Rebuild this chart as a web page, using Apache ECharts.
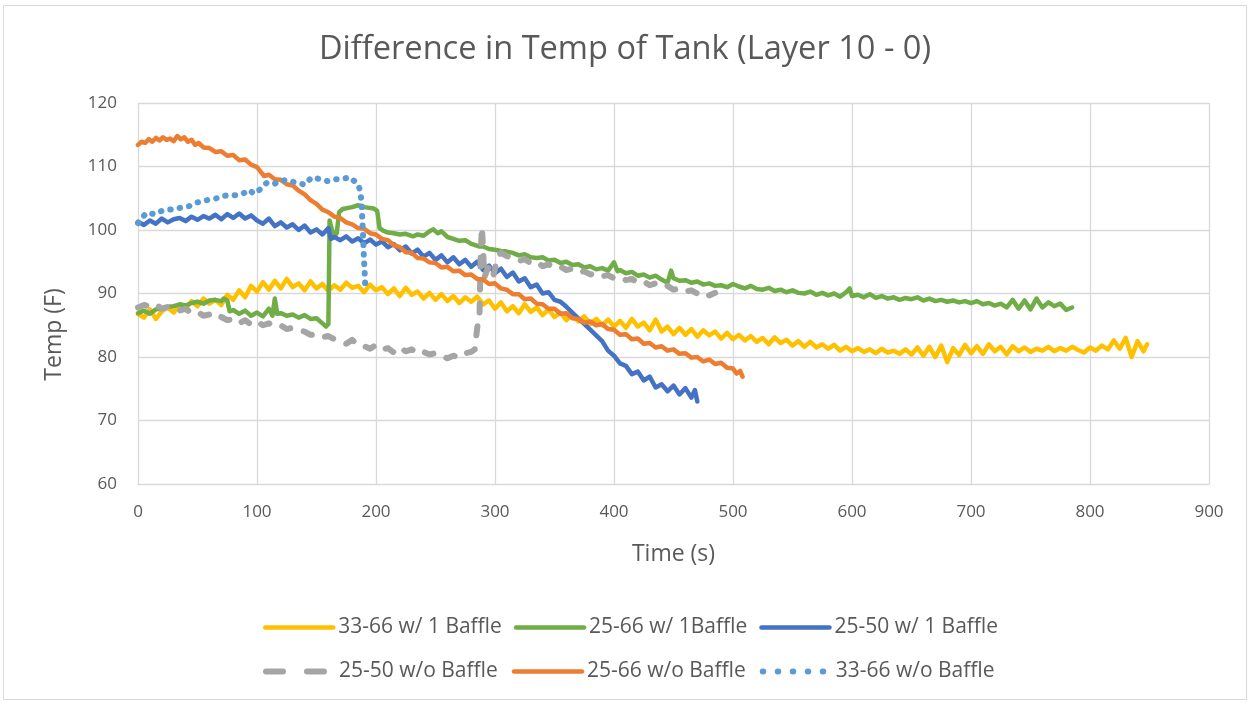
<!DOCTYPE html>
<html>
<head>
<meta charset="utf-8">
<script src="https://cdn.jsdelivr.net/npm/echarts@6/dist/echarts.min.js"></script>
<style>
  html, body { margin: 0; padding: 0; background: #fff; }
  #chart { width: 1250px; height: 703px; }
</style>
</head>
<body>
<div id="chart"></div>
<script>
// [time (s), temp (F)]
const yellow3366w1 = [[0,86.8],[5,86.2],[10,87.5],[15,86.0],[20,87.2],[25,87.8],[30,87.0],[35,88.2],[40,87.6],[45,88.8],[50,88.0],[55,89.2],[60,88.4],[65,89.0],[70,88.2],[75,89.8],[80,89.0],[85,90.5],[90,89.4],[95,91.2],[100,90.3],[105,91.8],[110,90.6],[115,92.0],[120,90.8],[125,92.3],[130,91.0],[135,91.6],[140,90.5],[145,91.9],[150,90.8],[155,91.5],[160,90.4],[165,91.3],[170,90.6],[175,91.7],[180,90.9],[185,91.2],[190,90.2],[195,91.4],[200,90.5],[205,91.0],[210,89.9],[215,90.8],[220,89.6],[225,90.9],[230,89.8],[235,90.3],[240,89.2],[245,90.1],[250,89.0],[255,89.9],[260,88.8],[265,89.6],[270,88.5],[275,89.4],[280,88.7],[285,89.5],[290,88.3],[295,88.9],[300,87.6],[305,88.6],[310,87.2],[315,88.0],[320,86.9],[325,88.3],[330,87.1],[335,87.8],[340,86.6],[345,87.5],[350,86.3],[355,87.0],[360,85.8],[365,86.8],[370,85.6],[375,86.4],[380,85.2],[385,86.0],[390,85.0],[395,85.9],[400,84.8],[405,85.7],[410,84.6],[415,86.0],[420,84.8],[425,85.4],[430,84.2],[435,85.9],[440,84.0],[445,84.8],[450,83.6],[455,84.6],[460,83.5],[465,84.4],[470,83.2],[475,84.2],[480,83.4],[485,84.0],[490,82.9],[495,83.8],[500,82.8],[505,83.5],[510,82.6],[515,83.3],[520,82.4],[525,83.0],[530,82.0],[535,83.1],[540,82.2],[545,82.7],[550,81.8],[555,82.5],[560,81.6],[565,82.4],[570,81.5],[575,82.0],[580,81.3],[585,81.9],[590,81.0],[595,81.6],[600,80.9],[605,81.4],[610,80.8],[615,81.2],[620,80.6],[625,81.3],[630,80.7],[635,81.0],[640,80.5],[645,81.2],[650,80.4],[655,81.5],[660,80.2],[665,81.6],[670,80.0],[675,81.8],[680,79.2],[685,81.4],[690,80.3],[695,81.9],[700,80.6],[705,81.7],[710,80.5],[715,82.0],[720,80.9],[725,81.6],[730,80.4],[735,81.7],[740,80.9],[745,81.5],[750,80.8],[755,81.3],[760,81.0],[765,81.6],[770,80.9],[775,81.4],[780,81.0],[785,81.6],[790,81.1],[795,80.7],[800,81.5],[805,81.0],[810,81.8],[815,81.2],[820,82.6],[825,81.3],[830,83.0],[835,80.0],[840,82.5],[845,80.9],[848,82.0]];

const green2566w1 = [[0,86.9],[5,87.3],[10,86.8],[15,87.5],[20,87.6],[25,87.9],[30,88.0],[35,88.3],[40,88.1],[45,88.5],[50,88.7],[55,88.4],[60,88.9],[65,89.0],[70,88.8],[72,89.2],[75,88.9],[77,87.2],[80,87.4],[85,86.8],[90,87.3],[95,86.5],[100,87.0],[105,86.4],[110,87.6],[113,86.5],[115,89.2],[117,86.8],[120,86.9],[125,86.5],[130,86.7],[135,86.2],[140,86.6],[145,86.0],[150,86.1],[155,85.3],[158,84.8],[160,85.2],[161,101.5],[163,100.0],[165,98.9],[167,99.5],[169,102.8],[172,103.3],[180,103.6],[185,103.9],[190,103.6],[198,103.4],[201,103.0],[203,100.3],[206,99.9],[210,99.6],[215,99.5],[220,99.3],[225,99.4],[231,99.0],[235,99.3],[240,99.1],[245,99.8],[248,100.1],[252,99.5],[255,99.8],[260,98.9],[265,98.6],[270,98.3],[275,98.4],[280,97.8],[287,97.4],[290,97.4],[295,97.0],[300,96.9],[305,96.7],[310,96.6],[315,96.4],[320,96.0],[325,96.2],[330,95.7],[335,95.6],[340,95.7],[345,95.2],[350,95.3],[355,94.8],[360,95.0],[365,94.5],[370,94.6],[375,94.1],[380,94.3],[385,93.8],[390,94.0],[395,93.6],[400,94.9],[403,93.5],[405,93.7],[410,93.2],[415,93.4],[420,92.8],[425,93.0],[430,92.5],[435,92.8],[440,92.2],[445,91.7],[448,93.6],[450,92.4],[455,92.0],[460,92.1],[465,91.7],[470,91.9],[475,91.4],[480,91.6],[485,91.2],[490,91.3],[495,91.0],[500,91.5],[505,91.1],[510,90.8],[515,91.2],[520,90.7],[525,90.6],[530,90.9],[535,90.4],[540,90.6],[545,90.2],[550,90.5],[555,90.1],[560,90.0],[565,90.3],[570,89.8],[575,90.1],[580,89.7],[585,90.0],[590,89.5],[595,90.2],[598,90.8],[600,89.6],[605,89.8],[610,89.4],[615,89.9],[620,89.3],[625,89.6],[630,89.2],[635,89.4],[640,89.0],[645,89.3],[650,89.1],[655,89.4],[660,88.9],[665,89.2],[670,88.8],[675,89.0],[680,88.7],[685,88.9],[690,88.6],[695,88.8],[700,88.5],[705,88.8],[710,88.3],[715,88.5],[720,88.1],[725,88.4],[730,87.8],[735,89.0],[740,87.6],[745,88.9],[750,87.5],[755,89.2],[760,87.8],[765,88.6],[770,88.0],[775,88.4],[780,87.4],[785,87.8]];

const blue2550w1 = [[0,101.3],[5,100.8],[10,101.5],[15,101.0],[20,101.8],[25,101.2],[30,101.7],[35,101.9],[40,101.4],[45,102.1],[50,101.6],[55,102.2],[60,101.8],[65,102.4],[70,101.7],[75,102.5],[80,101.9],[85,102.6],[90,101.8],[95,102.3],[100,101.5],[105,101.0],[110,101.8],[115,100.6],[120,101.2],[125,100.4],[130,100.9],[135,100.0],[140,100.7],[145,99.6],[150,100.1],[155,99.3],[160,100.3],[162,98.6],[165,98.9],[170,98.4],[175,99.0],[180,98.2],[185,98.7],[190,97.9],[195,98.5],[200,97.7],[205,98.2],[210,97.3],[215,97.8],[220,96.8],[225,97.4],[230,96.3],[235,96.9],[240,95.8],[245,96.4],[250,95.3],[255,96.0],[260,94.9],[265,95.7],[270,94.6],[275,95.3],[280,94.2],[285,95.0],[290,93.7],[295,94.4],[300,93.2],[305,93.9],[310,92.6],[315,93.3],[320,91.9],[325,92.4],[330,91.0],[335,91.4],[340,90.0],[345,90.2],[350,89.0],[355,88.7],[360,87.9],[365,87.0],[370,86.1],[375,85.2],[380,84.3],[385,83.4],[390,82.5],[395,81.0],[400,80.2],[405,79.0],[410,78.6],[415,77.3],[420,77.7],[425,76.3],[430,76.9],[435,75.2],[440,75.7],[445,74.6],[450,75.5],[455,74.1],[460,75.1],[465,73.6],[468,74.8],[470,73.0]];

const gray2550wo = [[0,87.8],[5,88.2],[10,87.9],[15,88.3],[20,87.6],[25,87.9],[30,87.5],[35,87.3],[40,87.6],[45,86.9],[50,87.1],[55,86.5],[60,86.7],[65,86.0],[70,86.3],[75,85.8],[80,86.0],[85,85.3],[90,85.8],[95,85.1],[100,85.6],[105,85.0],[110,85.3],[115,84.8],[120,85.0],[125,84.4],[130,84.6],[135,84.2],[140,84.0],[145,83.5],[150,83.6],[155,83.1],[160,83.3],[165,82.8],[170,82.5],[175,82.1],[180,82.7],[185,81.8],[190,81.7],[195,81.3],[200,81.9],[205,81.2],[210,81.4],[215,80.7],[220,81.5],[225,80.9],[230,81.2],[235,80.5],[240,80.8],[245,80.4],[250,80.6],[255,80.1],[260,79.8],[265,80.2],[270,79.9],[275,80.6],[280,80.8],[283,81.2],[285,84.5],[287,87.0],[288,96.0],[289,100.5],[290,97.0],[291,92.5],[293,93.5],[296,94.6],[299,93.0],[302,95.8],[305,96.4],[310,95.9],[315,95.6],[320,95.1],[325,95.4],[330,94.8],[335,95.0],[340,94.3],[345,94.6],[350,94.0],[355,94.2],[360,93.7],[365,93.9],[370,93.3],[375,93.5],[380,93.0],[385,93.2],[390,92.7],[395,92.9],[400,92.4],[405,92.6],[410,92.1],[415,92.3],[420,91.7],[425,91.9],[430,91.3],[435,91.6],[440,91.0],[445,91.2],[450,90.6],[455,90.8],[460,90.3],[465,90.5],[470,90.0],[475,90.3],[480,89.7],[485,90.1]];

const orange2566wo = [[0,113.4],[3,113.9],[6,113.7],[9,114.3],[12,113.9],[15,114.5],[18,114.1],[21,114.6],[24,114.2],[27,114.4],[30,114.0],[33,114.8],[36,114.3],[39,114.6],[42,113.9],[45,114.2],[48,113.4],[51,113.7],[55,113.0],[60,112.9],[65,112.3],[70,112.4],[75,111.7],[80,111.8],[85,111.0],[90,111.1],[95,110.3],[100,109.9],[103,109.2],[106,108.5],[110,108.7],[115,108.0],[120,107.9],[125,107.2],[130,107.0],[135,106.2],[140,105.6],[145,104.7],[150,104.1],[155,103.2],[160,102.8],[165,102.1],[170,101.9],[175,101.2],[180,100.9],[185,100.3],[190,100.2],[195,99.5],[200,99.3],[205,98.6],[210,98.4],[215,97.6],[220,97.3],[225,96.5],[230,96.4],[235,95.6],[240,95.5],[245,94.9],[250,94.8],[255,94.1],[260,94.2],[265,93.5],[270,93.6],[275,92.9],[280,93.0],[285,92.3],[290,92.2],[295,91.5],[300,91.6],[305,90.8],[310,90.6],[315,89.9],[320,89.9],[325,89.1],[330,89.2],[335,88.4],[340,88.3],[345,87.6],[350,87.6],[355,86.8],[360,86.9],[365,86.1],[370,86.0],[375,85.4],[380,85.6],[385,85.0],[390,85.2],[395,84.4],[400,84.3],[405,83.5],[410,83.6],[415,82.8],[420,82.9],[425,82.1],[430,82.2],[435,81.5],[440,81.7],[445,81.0],[450,81.2],[455,80.5],[460,80.6],[465,79.9],[470,80.0],[475,79.3],[480,79.6],[485,78.9],[490,79.1],[495,78.3],[500,78.2],[503,77.4],[506,77.8],[508,76.9]];

const ltblue3366wo = [[0,101.1],[7,102.7],[14,102.5],[21,103.1],[31,103.3],[38,103.6],[44,103.8],[49,104.3],[58,104.7],[66,105.0],[72,105.4],[83,105.5],[88,105.7],[94,106.3],[97,105.7],[102,106.3],[108,107.4],[114,107.2],[119,107.7],[125,107.9],[130,107.6],[136,107.4],[140,107.1],[146,108.3],[153,108.0],[159,107.7],[166,108.0],[171,108.0],[178,108.3],[185,107.2],[187,106.0],[188,103.8],[188.5,101.6],[189,99.7],[189.5,97.3],[190,95.0],[190.5,93.2],[191,90.9]];

const seriesNames = ['33-66 w/ 1 Baffle', '25-66 w/ 1Baffle', '25-50 w/ 1 Baffle', '25-50 w/o Baffle', '25-66 w/o Baffle', '33-66 w/o Baffle'];

const chartDom = document.getElementById('chart');
const chart = echarts.init(chartDom, null, { renderer: 'canvas' });

const textColor = '#595959';
const gridColor = '#d9d9d9';
const font = 'Open Sans';

const mkLine = (name, data, color, extra) => ({
  name: name,
  type: 'line',
  data: data,
  showSymbol: false,
  symbol: 'none',
  animation: false,
  lineStyle: Object.assign({ color: color, width: 4.5, cap: 'round', join: 'round' }, extra || {}),
  itemStyle: { color: color },
  emphasis: { disabled: true },
});

// legend entries: hide the marker, keep a thick line sample
const legendItem = (name, extra) => ({
  name: name,
  itemStyle: { opacity: 0 },
  lineStyle: Object.assign({ width: 4.5, cap: 'round' }, extra || {}),
});

const legendText = { color: textColor, fontSize: 21, fontFamily: font };

const option = {
  backgroundColor: '#fff',
  title: {
    text: 'Difference in Temp of Tank (Layer 10 - 0)',
    left: 'center',
    top: 28,
    textStyle: { color: textColor, fontSize: 32.6, fontWeight: 'normal', fontFamily: font },
  },
  graphic: [
    {
      type: 'rect',
      shape: { x: 3.5, y: 5.5, width: 1243, height: 694 },
      style: { fill: 'none', stroke: gridColor, lineWidth: 1 },
      silent: true,
    },
  ],
  grid: { left: 138, right: 41, top: 103, bottom: 219 },
  legend: [
    {
      data: [legendItem(seriesNames[0]), legendItem(seriesNames[1]), legendItem(seriesNames[2])],
      left: 263,
      top: 617,
      padding: 0,
      itemWidth: 68,
      itemHeight: 14,
      itemGap: 12,
      textStyle: legendText,
    },
    {
      data: [
        legendItem(seriesNames[3], { width: 6, type: [17, 24] }),
        legendItem(seriesNames[4]),
        legendItem(seriesNames[5], { width: 6, type: [0.5, 14.5] }),
      ],
      left: 263,
      top: 661,
      padding: 0,
      itemWidth: 68,
      itemHeight: 14,
      itemGap: 14,
      textStyle: legendText,
    },
  ],
  xAxis: {
    type: 'value',
    min: 0,
    max: 900,
    interval: 100,
    name: 'Time (s)',
    nameLocation: 'middle',
    nameGap: 59,
    nameTextStyle: { color: textColor, fontSize: 23, fontFamily: font },
    axisLine: { show: true, lineStyle: { color: gridColor } },
    axisTick: { show: false },
    axisLabel: { color: textColor, fontSize: 17, fontFamily: font, margin: 20 },
    splitLine: { show: true, lineStyle: { color: gridColor, width: 1.3 } },
  },
  yAxis: {
    type: 'value',
    min: 60,
    max: 120,
    interval: 10,
    name: 'Temp (F)',
    nameLocation: 'middle',
    nameGap: 72,
    nameTextStyle: { color: textColor, fontSize: 23, fontFamily: font, padding: [0, 82, 0, 0] },
    axisLine: { show: false },
    axisTick: { show: false },
    axisLabel: { color: textColor, fontSize: 17, fontFamily: font, margin: 21 },
    splitLine: { show: true, lineStyle: { color: gridColor, width: 1.3 } },
  },
  series: [
    mkLine(seriesNames[0], yellow3366w1, '#FFC000'),
    mkLine(seriesNames[1], green2566w1, '#70AD47'),
    mkLine(seriesNames[2], blue2550w1, '#4472C4'),
    mkLine(seriesNames[3], gray2550wo, '#A5A5A5', { width: 6, type: [9, 14] }),
    mkLine(seriesNames[4], orange2566wo, '#ED7D31'),
    mkLine(seriesNames[5], ltblue3366wo, '#5B9BD5', { width: 6, type: [0.5, 9] }),
  ],
};

chart.setOption(option);

window.addEventListener('resize', () => chart.resize());
</script>
</body>
</html>
